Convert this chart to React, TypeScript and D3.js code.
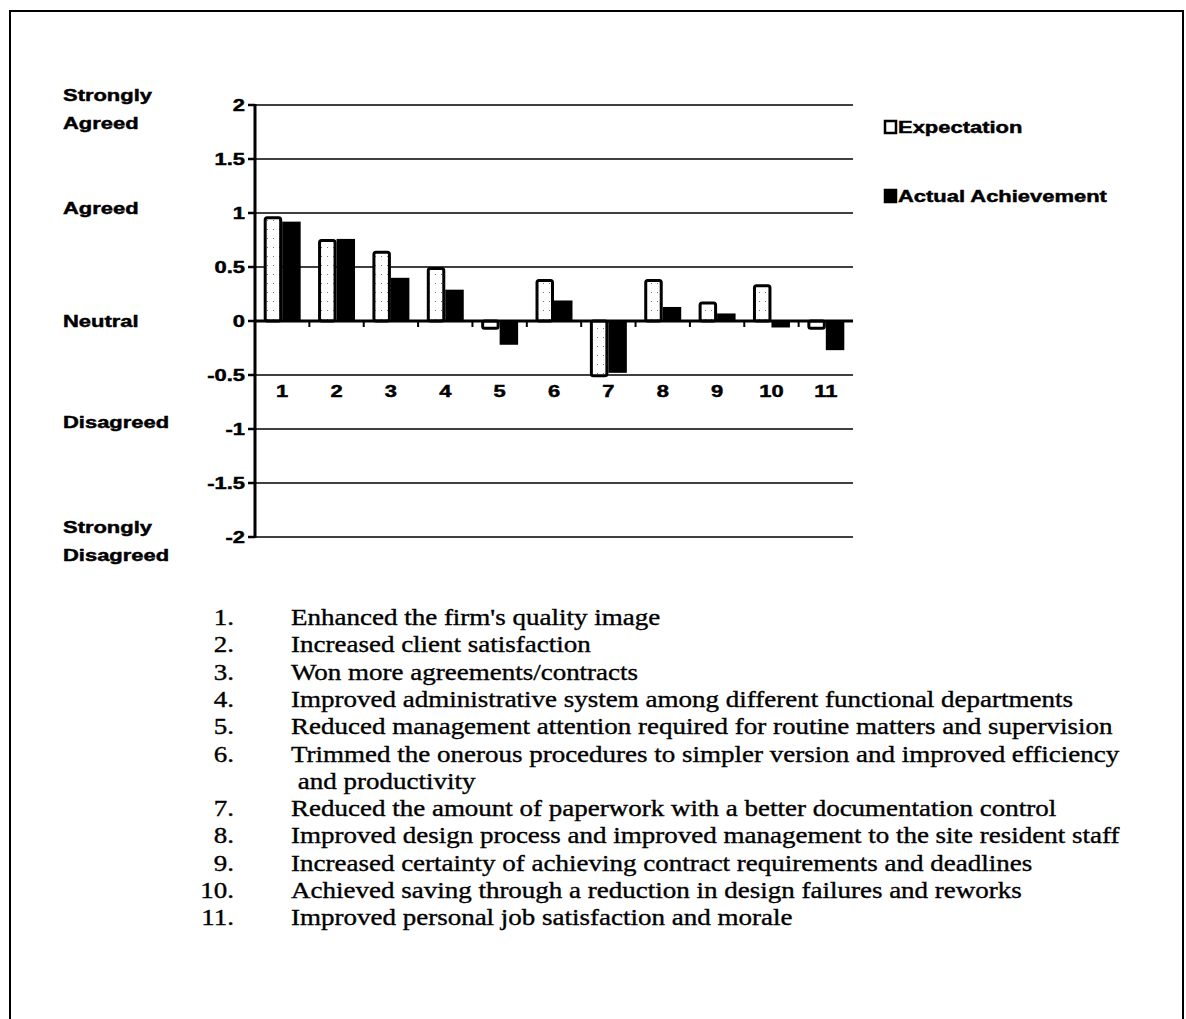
import React from "react";
import * as d3 from "d3";

const categories = ["1", "2", "3", "4", "5", "6", "7", "8", "9", "10", "11"];
const expectation = [0.97, 0.76, 0.65, 0.5, -0.08, 0.39, -0.52, 0.39, 0.18, 0.34, -0.08];
const actual = [0.92, 0.76, 0.4, 0.29, -0.22, 0.19, -0.48, 0.13, 0.07, -0.06, -0.27];
const yTicks = [2, 1.5, 1, 0.5, 0, -0.5, -1, -1.5, -2];
const scaleLabelValues = [2, 1, 0, -1, -2];
const scaleLabelTexts = [["Strongly", "Agreed"], ["Agreed"], ["Neutral"], ["Disagreed"], ["Strongly", "Disagreed"]];
const seriesNames = ["Expectation", "Actual Achievement"];
const itemNumbers = ["1.", "2.", "3.", "4.", "5.", "6.", "", "7.", "8.", "9.", "10.", "11."];
const itemTexts = [
  "Enhanced the firm's quality image",
  "Increased client satisfaction",
  "Won more agreements/contracts",
  "Improved administrative system among different functional departments",
  "Reduced management attention required for routine matters and supervision",
  "Trimmed the onerous procedures to simpler version and improved efficiency",
  " and productivity",
  "Reduced the amount of paperwork with a better documentation control",
  "Improved design process and improved management to the site resident staff",
  "Increased certainty of achieving contract requirements and deadlines",
  "Achieved saving through a reduction in design failures and reworks",
  "Improved personal job satisfaction and morale",
];

const SANS = "'Liberation Sans', Arial, sans-serif";
const SERIF = "'Liberation Serif', 'Times New Roman', serif";
const SX = 1.33;
const FS = 16.5;

function SText({ x, y, anchor = "start", children, size = FS, sx = SX }: any) {
  return (
    <text
      transform={`translate(${x},${y}) scale(${sx},1)`}
      textAnchor={anchor}
      fontFamily={SANS}
      fontWeight="bold"
      fontSize={size}
      fill="#000"
      stroke="#000"
      strokeWidth={0.45}
    >
      {children}
    </text>
  );
}

export default function App() {
  const W = 1186;
  const H = 1019;
  const x0 = 255;
  const x1 = 853;
  const y = d3.scaleLinear().domain([-2, 2]).range([537, 105]);
  const x = d3.scaleBand<string>().domain(categories).range([x0, x1]).paddingInner(0.32).paddingOuter(0.16);
  const bw = x.bandwidth() / 2;
  const sw = 3;

  return (
    <svg
      width={W}
      height={H}
      style={{ position: "absolute", left: 0, top: 0, background: "#fff" }}
    >
      <defs>
        <pattern id="stip" width="6" height="9" patternUnits="userSpaceOnUse">
          <rect width="6" height="9" fill="#fff" />
          <rect x="3" y="4" width="1" height="1" fill="#777" />
        </pattern>
      </defs>
      <rect x={0} y={0} width={W} height={H} fill="#fff" />
      {/* frame */}
      <rect x={10} y={11} width={1173} height={H + 20} fill="none" stroke="#000" strokeWidth={2} />

      {/* gridlines */}
      {yTicks.map((t) => (
        <line key={"g" + t} x1={x0} x2={x1} y1={y(t)} y2={y(t)} stroke="#000" strokeWidth={t === 0 ? 0 : 1.4} />
      ))}

      {/* bars */}
      {categories.map((c, i) => {
        const bx = x(c)!;
        const ev = expectation[i];
        const av = actual[i];
        const eTop = Math.min(y(ev), y(0));
        const eH = Math.abs(y(ev) - y(0));
        const aTop = Math.min(y(av), y(0));
        const aH = Math.abs(y(av) - y(0));
        return (
          <g key={"b" + c}>
            <rect x={bx + bw} y={aTop} width={bw} height={aH} fill="#000" />
            <rect
              x={bx + sw / 2}
              y={eTop + (ev >= 0 ? sw / 2 : 0)}
              width={bw - sw}
              height={Math.max(eH - sw / 2, 1)}
              fill="url(#stip)"
              stroke="#000"
              strokeWidth={sw}
              rx={2}
            />
          </g>
        );
      })}

      {/* zero line */}
      <line x1={x0} x2={x1} y1={y(0)} y2={y(0)} stroke="#000" strokeWidth={3} />
      {/* x ticks between categories */}
      {categories.slice(1).map((c) => {
        const tx = x(c)! - (x.step() - x.bandwidth()) / 2;
        return <line key={"xt" + c} x1={tx} x2={tx} y1={y(0)} y2={y(0) + 6} stroke="#000" strokeWidth={2} />;
      })}

      {/* y axis */}
      <line x1={x0} x2={x0} y1={y(2) - 1} y2={y(-2) + 1} stroke="#000" strokeWidth={3} />
      {yTicks.map((t) => (
        <g key={"yt" + t}>
          <line x1={x0 - 7} x2={x0} y1={y(t)} y2={y(t)} stroke="#000" strokeWidth={2.5} />
          <SText x={x0 - 10} y={y(t) + 6} anchor="end">
            {String(t)}
          </SText>
        </g>
      ))}

      {/* category labels */}
      {categories.map((c) => (
        <SText key={"cl" + c} x={x(c)! + x.bandwidth() / 2} y={397} anchor="middle">
          {c}
        </SText>
      ))}

      {/* scale descriptors */}
      {scaleLabelValues.map((v, i) => {
        const lines = scaleLabelTexts[i];
        if (lines.length === 2) {
          return (
            <g key={"sl" + v}>
              <SText x={63} y={y(v) - 10 + 6}>{lines[0]}</SText>
              <SText x={63} y={y(v) + 18 + 6}>{lines[1]}</SText>
            </g>
          );
        }
        const off = v === 0 ? 0 : v > 0 ? -5 : -7;
        return (
          <SText key={"sl" + v} x={63} y={y(v) + off + 6}>
            {lines[0]}
          </SText>
        );
      })}

      {/* legend */}
      {seriesNames.map((s, i) => {
        const ly = i === 0 ? 127 : 196;
        return (
          <g key={"lg" + s}>
            <rect
              x={885}
              y={ly - 6}
              width={11}
              height={12}
              fill={i === 0 ? "#fff" : "#000"}
              stroke="#000"
              strokeWidth={2.5}
            />
            <SText x={898} y={ly + 6}>{s}</SText>
          </g>
        );
      })}

      {/* item list */}
      {itemTexts.map((t, i) => {
        const by = 625 + i * 27.3;
        return (
          <g key={"it" + i}>
            {itemNumbers[i] && (
              <text
                transform={`translate(234,${by}) scale(1.2,1)`}
                textAnchor="end"
                fontFamily={SERIF}
                fontSize={22.5}
                fill="#000"
                stroke="#000"
                strokeWidth={0.35}
              >
                {itemNumbers[i]}
              </text>
            )}
            <text
              transform={`translate(291,${by}) scale(1.2,1)`}
              fontFamily={SERIF}
              fontSize={22.5}
              fill="#000"
              stroke="#000"
              strokeWidth={0.35}
              style={{ whiteSpace: "pre" }}
            >
              {t}
            </text>
          </g>
        );
      })}
    </svg>
  );
}
